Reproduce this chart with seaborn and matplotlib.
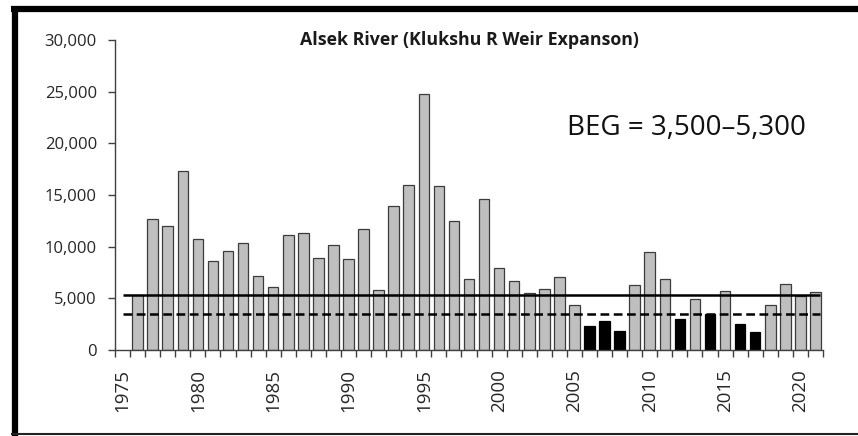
import numpy as np
import pandas as pd
import seaborn as sns
import matplotlib
matplotlib.use("Agg")
import matplotlib.pyplot as plt
from matplotlib.ticker import FuncFormatter, MultipleLocator, FixedLocator
from matplotlib.lines import Line2D

# escapement, Klukshu weir expansion, 1976-2021
years = list(range(1976, 2022))
escapement = [5300, 12700, 12000, 17300, 10700, 8600, 9600, 10400, 7200, 6100,
              11100, 11300, 8900, 10200, 8800, 11700, 5800, 13900, 16000, 24800,
              15900, 12500, 6850, 14600, 7900, 6700, 5550, 5870, 7100, 4360,
              2300, 2840, 1870, 6260, 9500, 6850, 3030, 4970, 3480, 5700,
              2500, 1740, 4330, 6360, 5250, 5580]
goal_low = 3500
goal_high = 5300
year_ticks = [1975, 1980, 1985, 1990, 1995, 2000, 2005, 2010, 2015, 2020]

df = pd.DataFrame({"year": years, "esc": escapement})
df["below"] = np.where(df["esc"] < goal_low, "below", "ok")

sns.set_style("white")
plt.rcParams["font.family"] = ["Open Sans", "DejaVu Sans"]

fig = plt.figure(figsize=(8.58, 4.36), dpi=100)
ax = fig.add_axes([115 / 858, 1 - 350 / 436, 708 / 858, 310 / 436])

sns.barplot(data=df, x="year", y="esc", hue="below", native_scale=True,
            palette={"ok": "#bfbfbf", "below": "#000000"}, dodge=False,
            width=0.7, legend=False, ax=ax, errorbar=None)
for p in ax.patches:
    fc = p.get_facecolor()
    p.set_edgecolor("#000000" if fc[0] < 0.1 else "#3c3c3c")
    p.set_linewidth(0.9)

# goal range lines
ax.hlines(goal_high, years[0] - 1, years[-1] + 0.3, color="black", lw=1.8, zorder=5)
ax.hlines(goal_low, years[0] - 1, years[-1] + 0.3, color="black", lw=1.8,
          linestyles=(0, (3.5, 1.8)), zorder=5)

ax.set_xlim(1974.5, 2021.5)
ax.set_ylim(0, 30000)
ax.xaxis.set_major_locator(FixedLocator(year_ticks))
ax.xaxis.set_minor_locator(FixedLocator(np.arange(1974.5, 2022, 1)))
ax.yaxis.set_major_locator(MultipleLocator(5000))
ax.yaxis.set_major_formatter(FuncFormatter(lambda v, _: f"{int(v):,}"))
ax.set_xticklabels([str(y) for y in year_ticks], rotation=90)
ax.tick_params(axis="x", which="major", length=0, pad=14, labelsize=13.5, labelcolor="#262626")
ax.tick_params(axis="x", which="minor", bottom=True, length=5, width=1, color="#404040")
ax.tick_params(axis="y", left=True, length=5, width=1, color="#404040",
               labelsize=12, labelcolor="#262626", pad=8)
ax.set_xlabel("")
ax.set_ylabel("")
sns.despine(ax=ax)
for s in ["left", "bottom"]:
    ax.spines[s].set_color("#404040")
    ax.spines[s].set_linewidth(1)

ax.text(0.5, 1.0, "Alsek River (Klukshu R Weir Expanson)", transform=ax.transAxes,
        ha="center", va="center", fontsize=12.8, fontweight="bold", color="#1a1a1a")
ax.text(0.638, 0.716, "BEG = 3,500\u20135,300", transform=ax.transAxes,
        ha="left", va="center", fontsize=20, color="#111111")

# picture frame
fig.add_artist(Line2D([14.5 / 858, 14.5 / 858], [0, 1 - 6 / 436], transform=fig.transFigure,
                      color="black", lw=4.5, solid_capstyle="butt"))
fig.add_artist(Line2D([11 / 858, 1], [1 - 9 / 436, 1 - 9 / 436], transform=fig.transFigure,
                      color="black", lw=4.5, solid_capstyle="butt"))
fig.add_artist(Line2D([11 / 858, 1], [1 - 434 / 436, 1 - 434 / 436], transform=fig.transFigure,
                      color="#222222", lw=1.5, solid_capstyle="butt"))

fig.savefig("out.png", dpi=100)
